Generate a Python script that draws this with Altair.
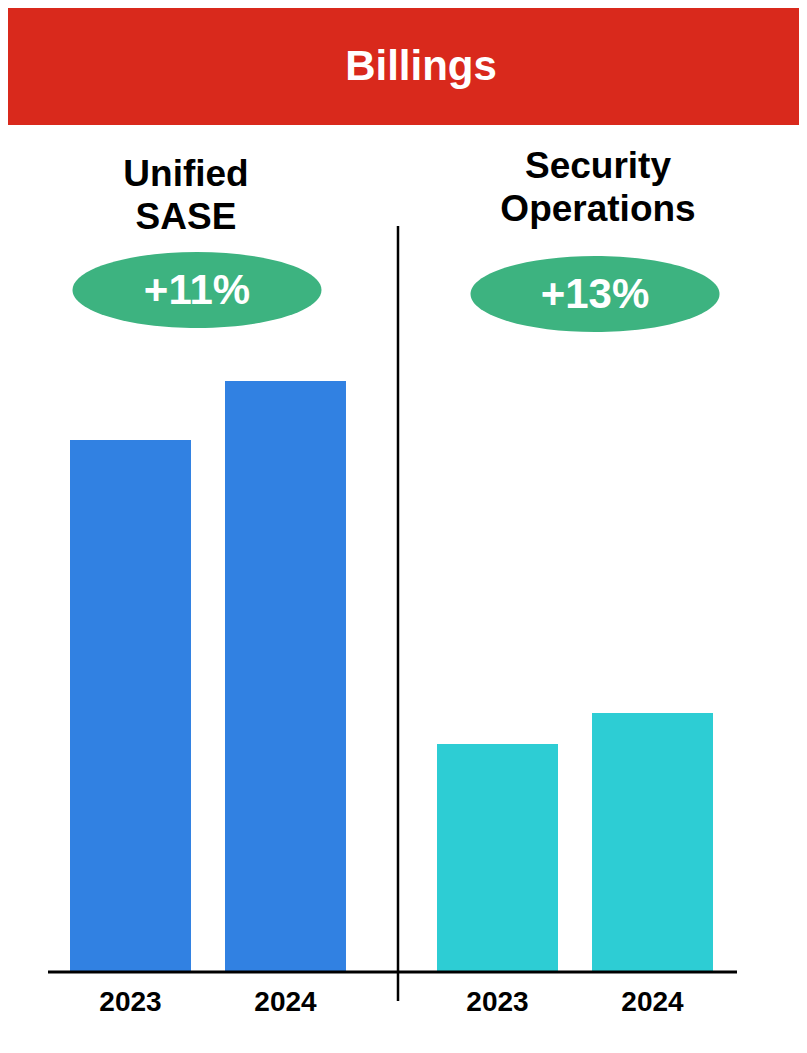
import altair as alt
import pandas as pd

# ---- data ----
groups = ["Unified SASE", "Security Operations"]
group_titles = ["Unified\nSASE", "Security\nOperations"]
years = ["2023", "2024"]
sase_values = [5.32, 5.91]
secops_values = [2.28, 2.59]
growth_labels = ["+11%", "+13%"]
header_title = "Billings"

# ---- styling ----
FONT = "Liberation Sans"
bar_colors = ["#3181E2", "#2DCDD4"]
RED = "#D9291C"
GREEN = "#3DB380"
W, H = 791, 1035

bars_df = pd.DataFrame({
    "group": [groups[0]] * 2 + [groups[1]] * 2,
    "year": years + years,
    "value": sase_values + secops_values,
})
ann_df = pd.DataFrame({"group": groups, "title": group_titles, "growth": growth_labels})
head_df = pd.DataFrame({"title": [header_title]})

xscale = alt.Scale(domain=groups, range=[62, 705], paddingInner=0.248, paddingOuter=0)
yscale = alt.Scale(domain=[0, 9], range=[964, 64])
X = alt.X("group:N", scale=xscale, axis=None)
offscale = alt.Scale(domain=years, paddingInner=0.2194, paddingOuter=0)
HALF_BAND = 138  # half of the group band width, for centering with xOffset values

header = alt.Chart(head_df).mark_rect(color=RED).encode(
    x=alt.value(0), x2=alt.value(W), y=alt.value(0), y2=alt.value(117)
)
header_text = alt.Chart(head_df).mark_text(
    font=FONT, fontWeight="bold", fontSize=42, color="white", baseline="middle", align="center"
).encode(x=alt.value(413), y=alt.value(59), text="title:N")

bars = alt.Chart(bars_df).mark_bar().encode(
    x=X,
    xOffset=alt.XOffset("year:N", scale=offscale),
    y=alt.Y("value:Q", scale=yscale, axis=None),
    color=alt.Color("group:N", scale=alt.Scale(domain=groups, range=bar_colors), legend=None),
)

year_labels = alt.Chart(bars_df).mark_text(
    font=FONT, fontWeight="bold", fontSize=28, color="black", baseline="middle", align="center"
).encode(
    x=X,
    xOffset=alt.XOffset("year:N", scale=offscale),
    y=alt.value(995),
    text="year:N",
)

axis_line = alt.Chart(head_df).mark_rule(color="black", strokeWidth=3).encode(
    x=alt.value(40), x2=alt.value(729), y=alt.datum(0, scale=yscale)
)
divider = alt.Chart(head_df).mark_rule(color="black", strokeWidth=2.5).encode(
    x=alt.value(390), y=alt.value(218), y2=alt.value(993)
)

ellipse_path = "M -1 0 A 1 0.305 0 1 1 1 0 A 1 0.305 0 1 1 -1 0 Z"

ann_layers = []
settings = [
    # title dx, first title line y, ellipse dx, ellipse y
    (-22, 167, -11, 282),
    (23, 159, 20, 286),
]
for g, (tdx, ty, edx, ey) in zip(groups, settings):
    base = alt.Chart(ann_df).transform_filter(alt.datum.group == g)
    ann_layers.append(
        base.mark_text(
            font=FONT, fontWeight="bold", fontSize=37, color="black",
            baseline="middle", align="center", lineBreak="\n", lineHeight=43, dx=tdx
        ).encode(x=X, y=alt.value(ty), text="title:N")
    )
    ann_layers.append(
        base.mark_point(shape=ellipse_path, size=249 * 249, filled=True, opacity=1,
                        color=GREEN, strokeWidth=0)
        .encode(x=X, xOffset=alt.value(HALF_BAND + edx), y=alt.value(ey))
    )
    ann_layers.append(
        base.mark_text(
            font=FONT, fontWeight="bold", fontSize=42, color="white",
            baseline="middle", align="center", dx=edx
        ).encode(x=X, y=alt.value(ey + 1), text="growth:N")
    )

chart = alt.layer(
    header, header_text, bars, year_labels, axis_line, divider, *ann_layers
).properties(
    width=W, height=H, autosize=alt.AutoSizeParams(type="none"), padding=0, background="white"
).configure_view(stroke=None)

chart.save("out.html", embed_options={"renderer": "svg", "actions": False})
